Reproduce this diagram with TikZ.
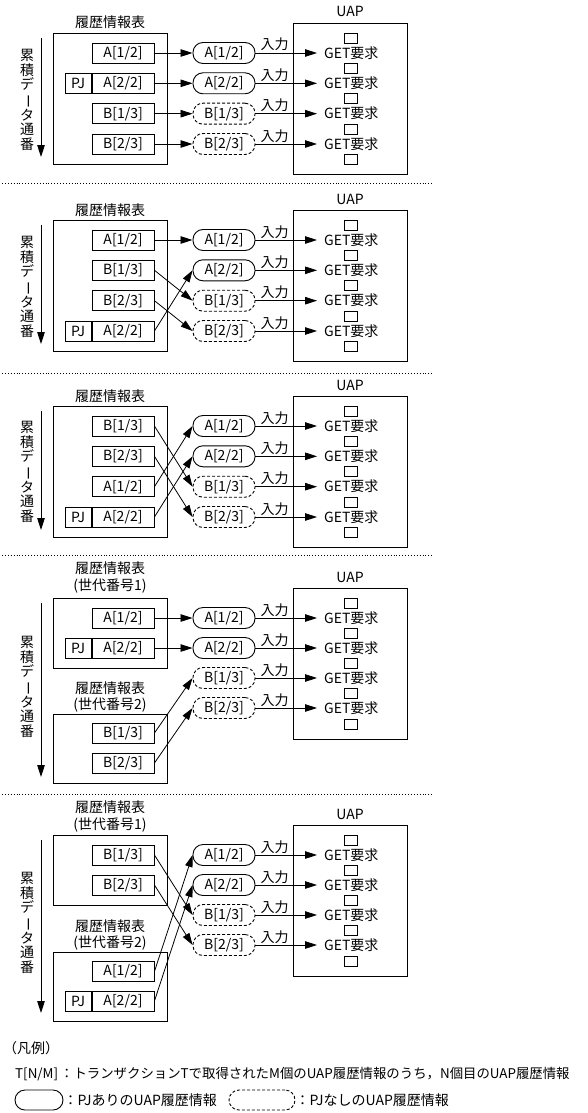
\documentclass[tikz,border=0pt]{standalone}
\usepackage{fontspec}
\setmainfont{Noto Sans CJK JP}
\usetikzlibrary{arrows.meta}
\tikzset{
  bx/.style={draw, line width=0.9pt, inner sep=0pt},
  ibox/.style={bx, minimum width=62pt, minimum height=20pt},
  pjbox/.style={bx, minimum width=26pt, minimum height=20pt, anchor=east},
  obox/.style={bx, anchor=north west, minimum width=114pt},
  pill/.style={draw, line width=0.9pt, rounded corners=10pt, minimum width=62pt, minimum height=21pt, inner sep=0pt},
  dpill/.style={pill, dash pattern=on 3pt off 2pt},
  sq/.style={draw, line width=0.8pt, minimum width=13pt, minimum height=10pt, inner sep=0pt},
  arr/.style={line width=0.8pt, -{Triangle[length=12pt,width=7.5pt]}},
  sepline/.style={line width=0.9pt, dash pattern=on 0.9pt off 2pt},
  txt/.style={inner sep=0pt, anchor=base},
  vt/.style={inner sep=0pt, align=center, font=\fontsize{14pt}{14.4pt}\selectfont},
}
\newcommand{\vtxt}{累\\積\\デ\\\rotatebox[origin=c]{-90}{ー}\\タ\\通\\番}
\newcommand{\prow}[4]{%
  \node[#3] (#1p) at (224,#2) {#4};
  \node[inner sep=0pt, anchor=west] (#1g) at (324,#2) {GET要求};
  \node[sq] (#1s) at (350.5,{#2-15}) {};
  \node[txt] (#1i) at (274.5,{#2-3}) {入力};
  \draw[arr, shorten >=7pt] (#1p.east) -- (#1p.east -| #1g.west);
}
\newcommand{\uap}[2]{%
  \node[bx, anchor=north west, minimum width=114pt, minimum height=151pt] (#1U) at (293,#2) {};
  \node[txt] (#1Ut) at (350,{#2-6}) {UAP};
  \node[sq] (#1sl) at (350.5,{#2+136}) {};
}
\newcommand{\rightside}[6]{%
  \uap{#1}{#2}
  \prow{#1a}{#3}{pill}{A[1/2]}
  \prow{#1b}{#4}{pill}{A[2/2]}
  \prow{#1c}{#5}{dpill}{B[1/3]}
  \prow{#1d}{#6}{dpill}{B[2/3]}
}
\newcommand{\varrow}[4]{%
  \coordinate (#1va) at (41,#2);
  \coordinate (#1vb) at (41,#3);
  \draw[arr, line width=1pt] (#1va) -- (#1vb);
  \node[vt] (#1vt) at (27,#4) {\vtxt};
}
\begin{document}
\begin{tikzpicture}[x=1pt,y=-1pt, font=\fontsize{14pt}{16pt}\selectfont]
\useasboundingbox (0,0) rectangle (588,1113);

% ---------- Panel 1 ----------
\rightside{Pa}{23}{53}{83.3}{113.7}{144}
\node[txt] (Pat) at (110,28) {履歴情報表};
\node[obox, minimum height=131pt] (PaO) at (53,33) {};
\node[ibox] (PaL1) at (123,53) {A[1/2]};
\node[ibox] (PaL2) at (123,83.3) {A[2/2]};
\node[pjbox] (PaL2pj) at (PaL2.west) {PJ};
\node[ibox] (PaL3) at (123,113.7) {B[1/3]};
\node[ibox] (PaL4) at (123,144) {B[2/3]};
\draw[arr] (PaL1.east) -- (Paap.west);
\draw[arr] (PaL2.east) -- (Pabp.west);
\draw[arr] (PaL3.east) -- (Pacp.west);
\draw[arr] (PaL4.east) -- (Padp.west);
\varrow{Pa}{38}{157}{100}
\coordinate (S1a) at (2,183);
\coordinate (S1b) at (432,183);
\draw[sepline] (S1a) -- (S1b);

% ---------- Panel 2 ----------
\rightside{Pb}{210}{240}{270.3}{300.7}{331}
\node[txt] (Pbt) at (110,215) {履歴情報表};
\node[obox, minimum height=131pt] (PbO) at (53,220) {};
\node[ibox] (PbL1) at (123,240) {A[1/2]};
\node[ibox] (PbL2) at (123,270.3) {B[1/3]};
\node[ibox] (PbL3) at (123,300.7) {B[2/3]};
\node[ibox] (PbL4) at (123,331) {A[2/2]};
\node[pjbox] (PbL4pj) at (PbL4.west) {PJ};
\draw[arr] (PbL1.east) -- (Pbap.west);
\draw[arr] (PbL2.east) -- (Pbcp.west);
\draw[arr] (PbL3.east) -- (Pbdp.west);
\draw[arr] (PbL4.east) -- (Pbbp.west);
\varrow{Pb}{225}{344}{287}
\coordinate (S2a) at (2,373);
\coordinate (S2b) at (432,373);
\draw[sepline] (S2a) -- (S2b);

% ---------- Panel 3 ----------
\rightside{Pc}{396}{426}{456.3}{486.7}{517}
\node[txt] (Pct) at (110,401) {履歴情報表};
\node[obox, minimum height=131pt] (PcO) at (53,406) {};
\node[ibox] (PcL1) at (123,426) {B[1/3]};
\node[ibox] (PcL2) at (123,456.3) {B[2/3]};
\node[ibox] (PcL3) at (123,486.7) {A[1/2]};
\node[ibox] (PcL4) at (123,517) {A[2/2]};
\node[pjbox] (PcL4pj) at (PcL4.west) {PJ};
\draw[arr] (PcL1.east) -- (Pccp.west);
\draw[arr] (PcL2.east) -- (Pcdp.west);
\draw[arr] (PcL3.east) -- (Pcap.west);
\draw[arr] (PcL4.east) -- (Pcbp.west);
\varrow{Pc}{411}{530}{472}
\coordinate (S3a) at (2,555);
\coordinate (S3b) at (432,555);
\draw[sepline] (S3a) -- (S3b);

% ---------- Panel 4 ----------
\rightside{Pd}{588}{618}{648}{678}{708}
\node[txt] (Pdt1) at (110,573) {履歴情報表};
\node[txt] (Pdt2) at (110,590) {(世代番号1)};
\node[obox, minimum height=70pt] (PdO1) at (53,598) {};
\node[ibox] (PdL1) at (123,618) {A[1/2]};
\node[ibox] (PdL2) at (123,648) {A[2/2]};
\node[pjbox] (PdL2pj) at (PdL2.west) {PJ};
\node[txt] (Pdt3) at (110,693) {履歴情報表};
\node[txt] (Pdt4) at (110,709) {(世代番号2)};
\node[obox, minimum height=69pt] (PdO2) at (53,714) {};
\node[ibox] (PdL3) at (123,733) {B[1/3]};
\node[ibox] (PdL4) at (123,763) {B[2/3]};
\draw[arr] (PdL1.east) -- (Pdap.west);
\draw[arr] (PdL2.east) -- (Pdbp.west);
\draw[arr] (PdL3.east) -- (Pdcp.west);
\draw[arr] (PdL4.east) -- (Pddp.west);
\varrow{Pd}{603}{777}{687}
\coordinate (S4a) at (2,794);
\coordinate (S4b) at (432,794);
\draw[sepline] (S4a) -- (S4b);

% ---------- Panel 5 ----------
\rightside{Pe}{825}{855}{885}{915}{945}
\node[txt] (Pet1) at (110,812) {履歴情報表};
\node[txt] (Pet2) at (110,829) {(世代番号1)};
\node[obox, minimum height=70pt] (PeO1) at (53,835) {};
\node[ibox] (PeL1) at (123,855) {B[1/3]};
\node[ibox] (PeL2) at (123,885) {B[2/3]};
\node[txt] (Pet3) at (110,931) {履歴情報表};
\node[txt] (Pet4) at (110,947) {(世代番号2)};
\node[obox, minimum height=69pt] (PeO2) at (53,952) {};
\node[ibox] (PeL3) at (123,971.5) {A[1/2]};
\node[ibox] (PeL4) at (123,1001) {A[2/2]};
\node[pjbox] (PeL4pj) at (PeL4.west) {PJ};
\draw[arr] (PeL1.east) -- (Pecp.west);
\draw[arr] (PeL2.east) -- (Pedp.west);
\draw[arr] (PeL3.east) -- (Peap.west);
\draw[arr] (PeL4.east) -- (Pebp.west);
\varrow{Pe}{840}{1013}{923}

% ---------- Legend ----------
\node[txt, anchor=base west] (lg0) at (3,1053) {（凡例）};
\node[txt, anchor=base west, font=\fontsize{13.4pt}{16pt}\selectfont] (lg1) at (15,1078) {T[N/M]\hspace{2pt}：トランザクションTで取得されたM個のUAP履歴情報のうち，N個目のUAP履歴情報};
\node[pill, minimum width=48pt, minimum height=20pt] (lgp) at (39,1100) {};
\node[inner sep=0pt, anchor=west] (lgpt) at (lgp.east) {：PJありのUAP履歴情報};
\node[dpill, minimum width=66pt, minimum height=20pt] (lgd) at (262,1100) {};
\node[inner sep=0pt, anchor=west] (lgdt) at (lgd.east) {：PJなしのUAP履歴情報};
\end{tikzpicture}
\end{document}
